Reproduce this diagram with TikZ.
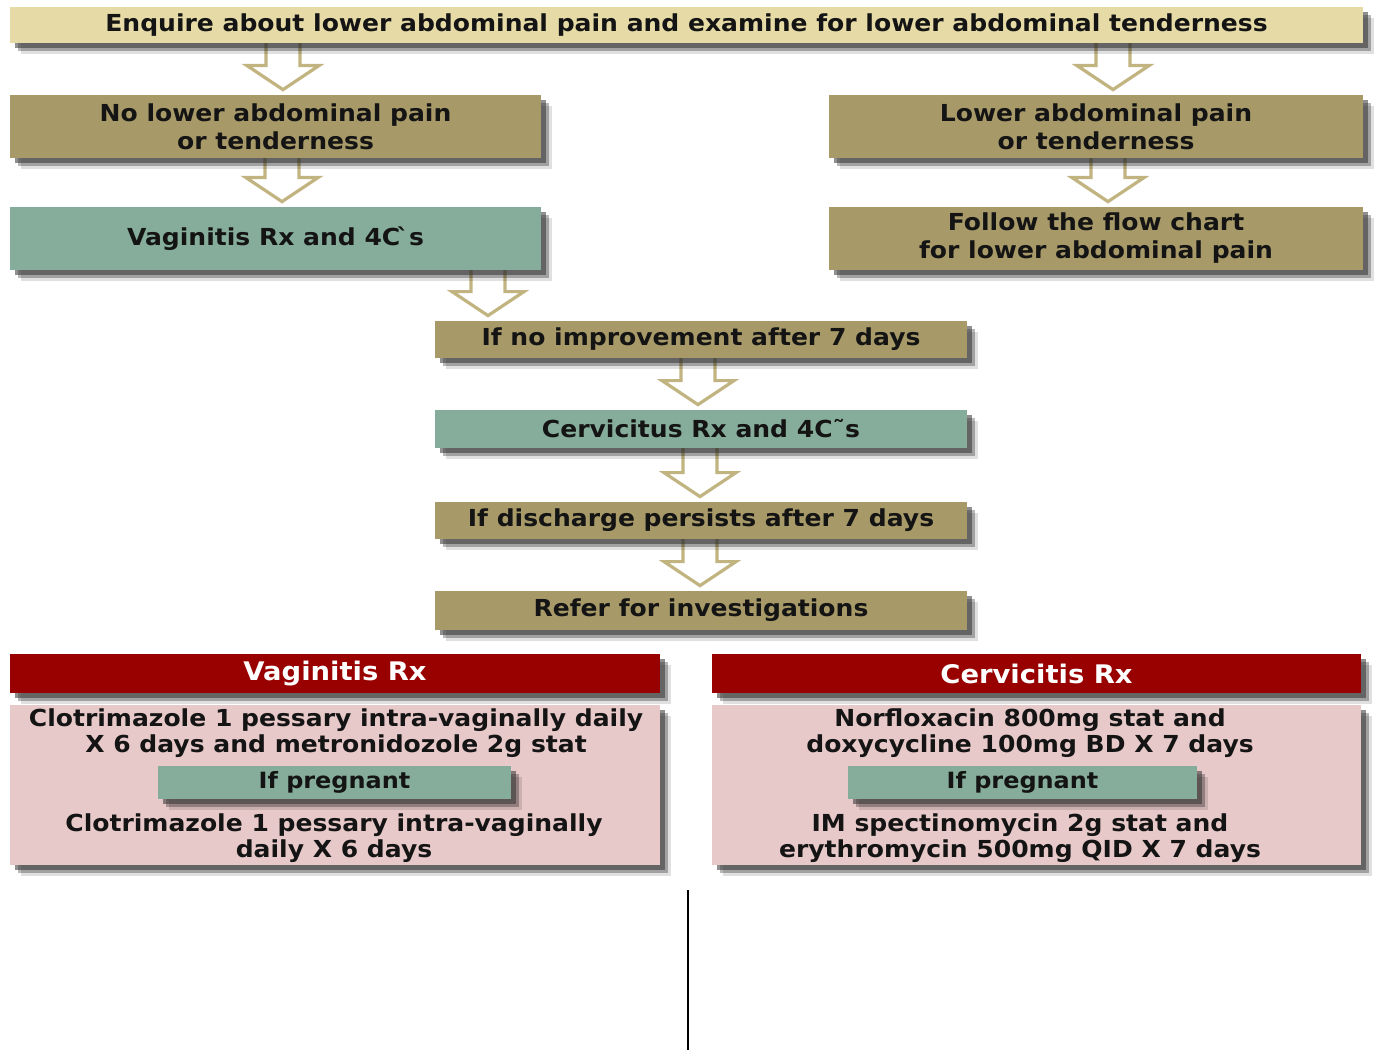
\documentclass[tikz,border=0pt]{standalone}
\usepackage{fontspec}
\setmainfont{DejaVu Sans}[FakeStretch=1.07]
\usetikzlibrary{shadows,calc}
\pgfdeclarelayer{background}
\pgfdeclarelayer{paper}
\pgfsetlayers{paper,background,main}
\definecolor{toptan}{RGB}{230,219,166}
\definecolor{olivebox}{RGB}{168,154,104}
\definecolor{tealbox}{RGB}{134,173,155}
\definecolor{hdrred}{RGB}{153,0,0}
\definecolor{pinkbox}{RGB}{232,201,201}
\definecolor{arrowtan}{RGB}{194,180,128}
\definecolor{txt}{RGB}{20,20,20}
\tikzset{
  shd/.style={
    drop shadow={shadow xshift=5.5pt,shadow yshift=-5.5pt,opacity=.12,fill=black},
    drop shadow={shadow xshift=4pt,shadow yshift=-4pt,opacity=.28,fill=black},
    drop shadow={shadow xshift=2.5pt,shadow yshift=-2.5pt,opacity=.55,fill=black!80}},
  box/.style={shd, inner sep=0pt, align=center, text=txt,
    font=\bfseries\fontsize{11.7}{14}\selectfont},
  pregbox/.style={box, fill=tealbox, font=\bfseries\fontsize{11.2}{13}\selectfont},
  bodytxt/.style={inner sep=0pt, align=center, text=txt,
    font=\bfseries\fontsize{11.7}{13}\selectfont},
  hdr/.style={shd, inner sep=0pt, align=center, fill=hdrred, text=white,
    font=\bfseries\fontsize{12.8}{14}\selectfont},
  blockarrow/.style={draw=arrowtan, line width=1.6pt, fill=white, line join=miter},
}
\newcommand\barrow[3]{%
  \begin{pgfonlayer}{background}
  \draw[blockarrow] let \p1=(#1.south), \p2=(#2.north) in
    ({#3*0.5pt-8.5pt},{\y1+3pt}) -- ({#3*0.5pt-8.5pt},{\y2+14.5pt})
    -- ({#3*0.5pt-18pt},{\y2+14.5pt}) -- ({#3*0.5pt},{\y2+2.5pt})
    -- ({#3*0.5pt+18pt},{\y2+14.5pt}) -- ({#3*0.5pt+8.5pt},{\y2+14.5pt})
    -- ({#3*0.5pt+8.5pt},{\y1+3pt});
  \end{pgfonlayer}}
\begin{document}
\begin{tikzpicture}
\begin{pgfonlayer}{paper}
\fill[white] (0,0) rectangle (695.5pt,-529.5pt);
\end{pgfonlayer}
\useasboundingbox (0,0) rectangle (695.5pt,-529.5pt);
% boxes
\node[box, fill=toptan, minimum width=676.5pt, minimum height=18pt] (top) at (343.25pt,-12.5pt)
  {Enquire about lower abdominal pain and examine for lower abdominal tenderness};
\node[box, fill=olivebox, minimum width=265.5pt, minimum height=31.5pt] (nopain) at (137.75pt,-63.25pt)
  {No lower abdominal pain\\or tenderness};
\node[box, fill=olivebox, minimum width=267pt, minimum height=31.5pt] (pain) at (548pt,-63.25pt)
  {Lower abdominal pain\\or tenderness};
\node[box, fill=tealbox, minimum width=265.5pt, minimum height=31.5pt] (vag4c) at (137.75pt,-119.25pt)
  {Vaginitis Rx and 4C\`{}s};
\node[box, fill=olivebox, minimum width=267pt, minimum height=31.5pt] (follow) at (548pt,-119.25pt)
  {Follow the flow chart\\for lower abdominal pain};
\node[box, fill=olivebox, minimum width=266pt, minimum height=18.5pt] (noimp) at (350.5pt,-169.75pt)
  {If no improvement after 7 days};
\node[box, fill=tealbox, minimum width=266pt, minimum height=19pt] (cerv4c) at (350.5pt,-214.5pt)
  {Cervicitus Rx and 4C˜s};
\node[box, fill=olivebox, minimum width=266pt, minimum height=18.5pt] (disch) at (350.5pt,-260.25pt)
  {If discharge persists after 7 days};
\node[box, fill=olivebox, minimum width=266pt, minimum height=19.5pt] (refer) at (350.5pt,-305.25pt)
  {Refer for investigations};
% treatment panels
\node[hdr, minimum width=325pt, minimum height=19.5pt] (vaghdr) at (167.5pt,-336.75pt) {Vaginitis Rx};
\node[shd, fill=pinkbox, inner sep=0pt, minimum width=325pt, minimum height=80pt] (vagbody) at (167.5pt,-392.5pt) {};
\node[pregbox, minimum width=176.5pt, minimum height=16.5pt] (vagpreg) at (167.25pt,-391.25pt) {If pregnant};
\node[bodytxt] (vagt1) at (168pt,-366.5pt) {Clotrimazole 1 pessary intra-vaginally daily\\X 6 days and metronidozole 2g stat};
\node[bodytxt] (vagt2) at (167pt,-419pt) {Clotrimazole 1 pessary intra-vaginally\\daily X 6 days};
\node[hdr, minimum width=324.5pt, minimum height=19.5pt] (cervhdr) at (518.25pt,-336.75pt) {Cervicitis Rx};
\node[shd, fill=pinkbox, inner sep=0pt, minimum width=324.5pt, minimum height=80pt] (cervbody) at (518.25pt,-392.5pt) {};
\node[pregbox, minimum width=174.5pt, minimum height=16.5pt] (cervpreg) at (511.25pt,-391.25pt) {If pregnant};
\node[bodytxt] (cervt1) at (515pt,-366.5pt) {Norfloxacin 800mg stat and\\doxycycline 100mg BD X 7 days};
\node[bodytxt] (cervt2) at (510pt,-419pt) {IM spectinomycin 2g stat and\\erythromycin 500mg QID X 7 days};
% arrows
\barrow{top}{nopain}{283}
\barrow{top}{pain}{1113}
\barrow{nopain}{vag4c}{282}
\barrow{pain}{follow}{1108}
\barrow{vag4c}{noimp}{488}
\barrow{noimp}{cerv4c}{698}
\barrow{cerv4c}{disch}{700}
\barrow{disch}{refer}{700}
% free line
\coordinate (lineA) at (344pt,-445pt);
\coordinate (lineB) at (344pt,-525pt);
\draw[black, line width=0.6pt] (lineA) -- (lineB);
\end{tikzpicture}
\end{document}
